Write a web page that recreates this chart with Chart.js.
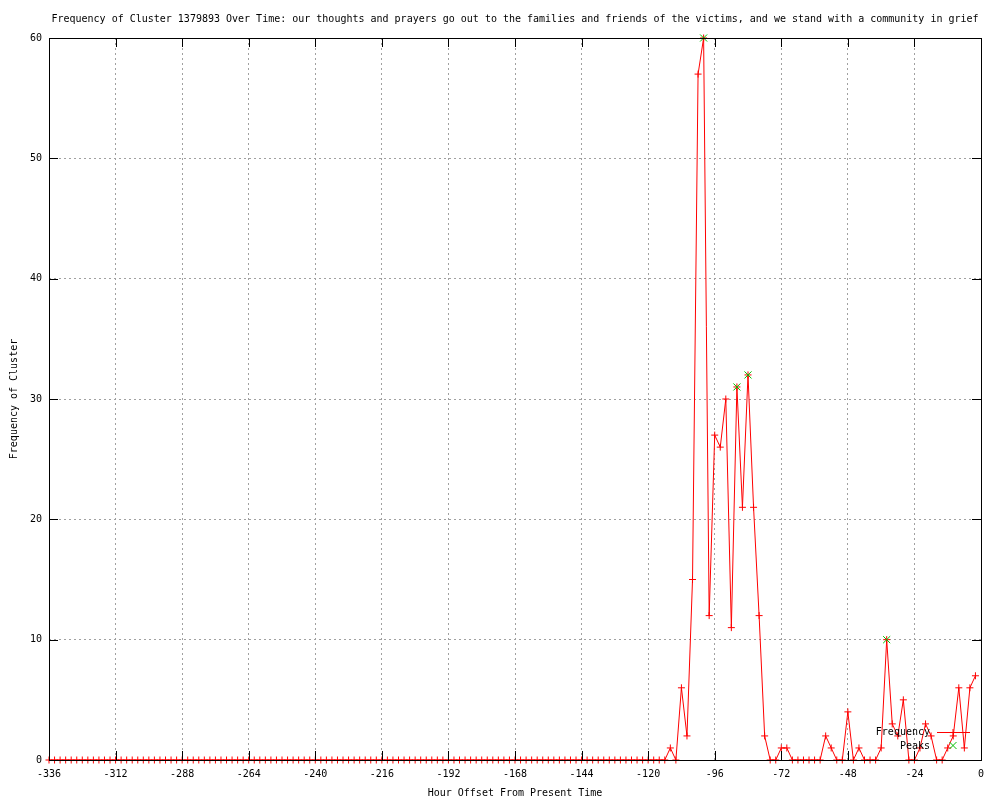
<!DOCTYPE html>
<html>
<head>
<meta charset="utf-8">
<title>Frequency of Cluster 1379893 Over Time</title>
<script src="https://cdn.jsdelivr.net/npm/chart.js@4/dist/chart.umd.min.js"></script>
<style>
    html, body { margin: 0; padding: 0; background: #ffffff; }
    #wrap { width: 1000px; height: 800px; }
</style>
</head>
<body>
<div id="wrap"><canvas id="freqChart" width="1000" height="800"></canvas></div>
<script>
// hour offsets (one point every 2 hours), one row = 24 hours
const hours = [
    -336, -334, -332, -330, -328, -326, -324, -322, -320, -318, -316, -314,
    -312, -310, -308, -306, -304, -302, -300, -298, -296, -294, -292, -290,
    -288, -286, -284, -282, -280, -278, -276, -274, -272, -270, -268, -266,
    -264, -262, -260, -258, -256, -254, -252, -250, -248, -246, -244, -242,
    -240, -238, -236, -234, -232, -230, -228, -226, -224, -222, -220, -218,
    -216, -214, -212, -210, -208, -206, -204, -202, -200, -198, -196, -194,
    -192, -190, -188, -186, -184, -182, -180, -178, -176, -174, -172, -170,
    -168, -166, -164, -162, -160, -158, -156, -154, -152, -150, -148, -146,
    -144, -142, -140, -138, -136, -134, -132, -130, -128, -126, -124, -122,
    -120, -118, -116, -114, -112, -110, -108, -106, -104, -102, -100, -98,
    -96, -94, -92, -90, -88, -86, -84, -82, -80, -78, -76, -74,
    -72, -70, -68, -66, -64, -62, -60, -58, -56, -54, -52, -50,
    -48, -46, -44, -42, -40, -38, -36, -34, -32, -30, -28, -26,
    -24, -22, -20, -18, -16, -14, -12, -10, -8, -6, -4, -2
];

// frequency of the cluster at each hour offset
const frequency = [
    0, 0, 0, 0, 0, 0, 0, 0, 0, 0, 0, 0,
    0, 0, 0, 0, 0, 0, 0, 0, 0, 0, 0, 0,
    0, 0, 0, 0, 0, 0, 0, 0, 0, 0, 0, 0,
    0, 0, 0, 0, 0, 0, 0, 0, 0, 0, 0, 0,
    0, 0, 0, 0, 0, 0, 0, 0, 0, 0, 0, 0,
    0, 0, 0, 0, 0, 0, 0, 0, 0, 0, 0, 0,
    0, 0, 0, 0, 0, 0, 0, 0, 0, 0, 0, 0,
    0, 0, 0, 0, 0, 0, 0, 0, 0, 0, 0, 0,
    0, 0, 0, 0, 0, 0, 0, 0, 0, 0, 0, 0,
    0, 0, 0, 0, 1, 0, 6, 2, 15, 57, 60, 12,
    27, 26, 30, 11, 31, 21, 32, 21, 12, 2, 0, 0,
    1, 1, 0, 0, 0, 0, 0, 0, 2, 1, 0, 0,
    4, 0, 1, 0, 0, 0, 1, 10, 3, 2, 5, 0,
    0, 1, 3, 2, 0, 0, 1, 2, 6, 1, 6, 7
];

// detected peaks
const peakHours = [-100, -88, -84, -34];
const peakValues = [60, 31, 32, 10];

// axis ticks
const xTicks = [-336, -312, -288, -264, -240, -216, -192, -168, -144, -120, -96, -72, -48, -24, 0];
const yTicks = [0, 10, 20, 30, 40, 50, 60];

const FONT = "'DejaVu Sans Mono', 'Liberation Mono', monospace";
const RED = '#ff0000';
const GREEN = '#00c000';
const TIC = 9;

// gnuplot style border, inward ticks and key
const gnuplotFrame = {
    id: 'gnuplotFrame',
    afterDatasetsDraw(chart) {
        const { ctx, chartArea: a, scales } = chart;
        const x = scales.x, y = scales.y;
        ctx.save();
        ctx.strokeStyle = '#000000';
        ctx.lineWidth = 1;
        ctx.setLineDash([]);
        ctx.beginPath();
        xTicks.forEach(v => {
            const px = Math.round(x.getPixelForValue(v)) + 0.5;
            ctx.moveTo(px, a.bottom); ctx.lineTo(px, a.bottom - TIC);
            ctx.moveTo(px, a.top); ctx.lineTo(px, a.top + TIC);
        });
        yTicks.forEach(v => {
            const py = Math.round(y.getPixelForValue(v)) + 0.5;
            ctx.moveTo(a.left, py); ctx.lineTo(a.left + TIC, py);
            ctx.moveTo(a.right, py); ctx.lineTo(a.right - TIC, py);
        });
        ctx.stroke();
        ctx.strokeRect(Math.round(a.left) + 0.5, Math.round(a.top) + 0.5,
            Math.round(a.right - a.left), Math.round(a.bottom - a.top));

        // key
        const tx = a.right - 51, lx1 = a.right - 44, lx2 = a.right - 11, mx = a.right - 28;
        const y1 = a.bottom - 27.5, y2 = a.bottom - 14.5;
        ctx.font = '10px ' + FONT;
        ctx.fillStyle = '#000000';
        ctx.textAlign = 'right';
        ctx.textBaseline = 'middle';
        ctx.fillText('Frequency', tx, y1);
        ctx.fillText('Peaks', tx, y2 + 1);
        ctx.strokeStyle = RED;
        ctx.beginPath();
        ctx.moveTo(lx1, y1); ctx.lineTo(lx2, y1);
        ctx.moveTo(mx - 3.5, y1); ctx.lineTo(mx + 3.5, y1);
        ctx.moveTo(mx, y1 - 3.5); ctx.lineTo(mx, y1 + 3.5);
        ctx.stroke();
        ctx.strokeStyle = GREEN;
        ctx.beginPath();
        ctx.moveTo(mx - 3.5, y2 - 3.5); ctx.lineTo(mx + 3.5, y2 + 3.5);
        ctx.moveTo(mx + 3.5, y2 - 3.5); ctx.lineTo(mx - 3.5, y2 + 3.5);
        ctx.stroke();
        ctx.restore();
    }
};

const ctx = document.getElementById('freqChart');
new Chart(ctx, {
    type: 'line',
    data: {
        datasets: [
            {
                label: 'Peaks',
                data: peakHours.map((h, i) => ({ x: h, y: peakValues[i] })),
                showLine: false,
                pointStyle: 'crossRot',
                pointRadius: 5,
                pointBorderWidth: 1,
                pointBorderColor: GREEN,
                pointBackgroundColor: GREEN,
                borderColor: GREEN
            },
            {
                label: 'Frequency',
                data: hours.map((h, i) => ({ x: h, y: frequency[i] })),
                borderColor: RED,
                borderWidth: 1,
                tension: 0,
                pointStyle: 'cross',
                pointRadius: 3.5,
                pointBorderWidth: 1,
                pointBorderColor: RED,
                pointBackgroundColor: RED
            }
        ]
    },
    options: {
        responsive: false,
        animation: false,
        devicePixelRatio: 1,
        clip: false,
        layout: { padding: { left: 0, right: 19, top: 0, bottom: 0 } },
        plugins: {
            legend: { display: false },
            tooltip: { enabled: false },
            title: {
                display: true,
                fullSize: false,
                text: 'Frequency of Cluster 1379893 Over Time: our thoughts and prayers go out to the families and friends of the victims, and we stand with a community in grief',
                color: '#000000',
                font: { family: FONT, size: 10, weight: 'normal' },
                padding: { top: 13, bottom: 13 }
            }
        },
        scales: {
            x: {
                type: 'linear',
                min: -336,
                max: 0,
                afterFit: scale => { scale.height = 40; },
                afterBuildTicks: scale => { scale.ticks = xTicks.map(v => ({ value: v })); },
                ticks: {
                    color: '#000000',
                    font: { family: FONT, size: 10 },
                    padding: 8,
                    maxRotation: 0,
                    autoSkip: false
                },
                grid: {
                    color: '#a0a0a0',
                    lineWidth: 1,
                    drawTicks: false
                },
                border: { display: false, dash: [2, 3] },
                title: {
                    display: true,
                    text: 'Hour Offset From Present Time',
                    color: '#000000',
                    font: { family: FONT, size: 10 },
                    padding: { top: 0, bottom: 1 }
                }
            },
            y: {
                min: 0,
                max: 60,
                afterFit: scale => { scale.width = 49; },
                afterBuildTicks: scale => { scale.ticks = yTicks.map(v => ({ value: v })); },
                ticks: {
                    color: '#000000',
                    font: { family: FONT, size: 10 },
                    padding: 7
                },
                grid: {
                    color: '#a0a0a0',
                    lineWidth: 1,
                    drawTicks: false
                },
                border: { display: false, dash: [2, 3] },
                title: {
                    display: true,
                    text: 'Frequency of Cluster',
                    color: '#000000',
                    font: { family: FONT, size: 10 },
                    padding: { top: 8, bottom: 0 }
                }
            }
        }
    },
    plugins: [gnuplotFrame]
});
</script>
</body>
</html>
